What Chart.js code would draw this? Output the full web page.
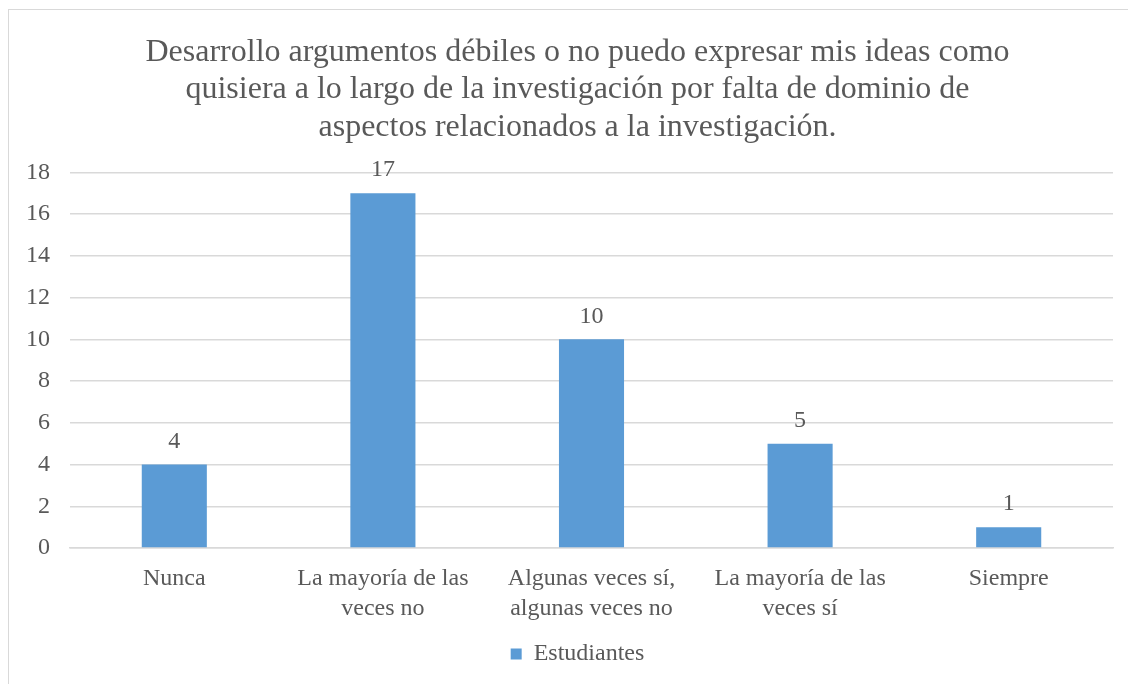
<!DOCTYPE html>
<html>
<head>
<meta charset="utf-8">
<script src="https://cdn.jsdelivr.net/npm/chart.js@4/dist/chart.umd.min.js"></script>
<style>
  html, body { margin: 0; padding: 0; background: #fff; }
  #wrap { position: relative; width: 1128px; height: 684px; overflow: hidden; }
  #frame { position: absolute; left: 8px; top: 9px; width: 1200px; height: 800px; border: 1px solid #d9d9d9; }
  canvas { position: absolute; left: 0; top: 0; }
</style>
</head>
<body>
<div id="wrap">
  <div id="frame"></div>
  <canvas id="chart" width="1128" height="684"></canvas>
</div>
<script>
const titleLines = [
  "Desarrollo argumentos débiles o no puedo expresar mis ideas como",
  "quisiera a lo largo de la investigación por falta de dominio de",
  "aspectos relacionados a la investigación."
];
const categories = [
  ["Nunca"],
  ["La mayoría de las", "veces no"],
  ["Algunas veces sí,", "algunas veces no"],
  ["La mayoría de las", "veces sí"],
  ["Siempre"]
];
const seriesName = "Estudiantes";
const values = [4, 17, 10, 5, 1];
const yTicks = [0, 2, 4, 6, 8, 10, 12, 14, 16, 18];

const serif = "'Liberation Serif', 'Times New Roman', serif";
const textColor = "#595959";

// the original frame runs past the right edge, so title and legend sit a bit right of centre
const shiftBlocks = {
  id: "shiftBlocks",
  afterLayout(chart) {
    const dx = 18;
    [chart.titleBlock, chart.legend].forEach(b => {
      if (b) { b.left += dx; b.right += dx; }
    });
  }
};

const valueLabels = {
  id: "valueLabels",
  afterDatasetsDraw(chart) {
    const ctx = chart.ctx;
    ctx.save();
    ctx.font = "24px " + serif;
    ctx.fillStyle = textColor;
    ctx.textAlign = "center";
    ctx.textBaseline = "middle";
    chart.getDatasetMeta(0).data.forEach((bar, i) => {
      ctx.fillText(String(values[i]), bar.x, bar.y - 23);
    });
    ctx.restore();
  }
};

new Chart(document.getElementById("chart"), {
  type: "bar",
  data: {
    labels: categories,
    datasets: [{
      label: seriesName,
      data: values,
      backgroundColor: "#5b9bd5",
      categoryPercentage: 1,
      barPercentage: 0.312
    }]
  },
  options: {
    responsive: false,
    animation: false,
    layout: { padding: { left: 6, right: 15, top: 12, bottom: 8 } },
    plugins: {
      title: {
        display: true,
        text: titleLines,
        font: { family: serif, size: 32, weight: "normal", lineHeight: 1.17 },
        color: textColor,
        padding: { top: 21.5, bottom: 26.5 }
      },
      legend: {
        position: "bottom",
        labels: {
          font: { family: serif, size: 24 },
          color: textColor,
          boxWidth: 11,
          boxHeight: 11,
          padding: 10
        }
      },
      tooltip: { enabled: false }
    },
    scales: {
      x: {
        grid: { display: false },
        border: { color: "#d9d9d9", width: 1.5 },
        ticks: {
          font: { family: serif, size: 24, lineHeight: 1.25 },
          color: textColor,
          maxRotation: 0,
          padding: 8
        }
      },
      y: {
        min: 0,
        max: 18,
        afterBuildTicks(scale) { scale.ticks = yTicks.map(v => ({ value: v })); },
        grid: { color: "#d9d9d9", lineWidth: 1.5, drawTicks: false },
        border: { display: false },
        ticks: {
          font: { family: serif, size: 24 },
          color: textColor,
          padding: 20
        }
      }
    }
  },
  plugins: [shiftBlocks, valueLabels]
});
</script>
</body>
</html>
